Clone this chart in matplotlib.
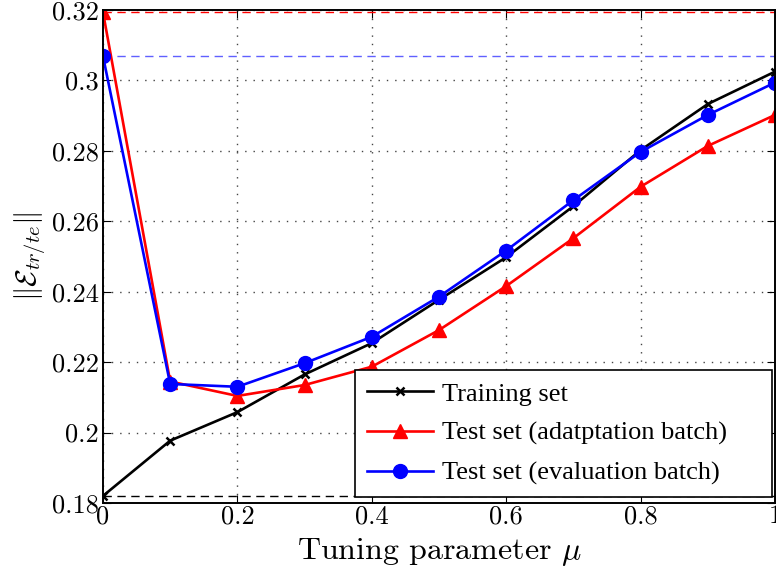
import numpy as np
import matplotlib.pyplot as plt

plt.rcParams['font.family'] = ['cmr10', 'DejaVu Serif']
plt.rcParams['mathtext.fontset'] = 'cm'
plt.rcParams['axes.formatter.use_mathtext'] = True

mu = [0.0, 0.1, 0.2, 0.3, 0.4, 0.5, 0.6, 0.7, 0.8, 0.9, 1.0]
training = [0.182, 0.1977, 0.2058, 0.2165, 0.2254, 0.2377, 0.2498, 0.2643, 0.2802, 0.2933, 0.3025]
test_adapt = [0.3194, 0.2145, 0.2104, 0.2135, 0.2187, 0.2291, 0.2416, 0.2552, 0.2698, 0.2814, 0.2902]
test_eval = [0.3069, 0.2138, 0.2130, 0.2197, 0.2272, 0.2386, 0.2517, 0.2660, 0.2797, 0.2902, 0.2994]

xticks = [0, 0.2, 0.4, 0.6, 0.8, 1]
xticklabels = ["0", "0.2", "0.4", "0.6", "0.8", "1"]
yticks = [0.18, 0.2, 0.22, 0.24, 0.26, 0.28, 0.3, 0.32]
yticklabels = ["0.18", "0.2", "0.22", "0.24", "0.26", "0.28", "0.3", "0.32"]

fig = plt.figure(figsize=(7.76, 5.73), dpi=100)
ax = fig.add_axes([0.1327, 0.1222, 0.866, 0.8603])

# reference levels at mu = 0
ax.axhline(training[0], color='black', ls='--', lw=1, dashes=(6, 4))
ax.axhline(test_adapt[0], color='red', ls='--', lw=1, dashes=(6, 4))
ax.axhline(test_eval[0], color='#6060ff', ls='--', lw=1, dashes=(6, 4))

ax.plot(mu, training, color='black', lw=1.9, marker='x', ms=6, mew=1.8, label='Training set')
ax.plot(mu, test_adapt, color='red', lw=1.9, marker='^', ms=10, label='Test set (adatptation batch)')
ax.plot(mu, test_eval, color='blue', lw=1.9, marker='o', ms=10, label='Test set (evaluation batch)')

ax.set_xlim(0, 1)
ax.set_ylim(0.18, 0.32)
ax.set_xticks(xticks)
ax.set_xticklabels(xticklabels)
ax.set_yticks(yticks)
ax.set_yticklabels(yticklabels)
ax.tick_params(direction='in', top=True, right=True, labelsize=19, length=6, pad=3)
ax.tick_params(axis='x', pad=1)
ax.grid(True, color='#444444', ls=(0, (1, 5)), lw=1.0)
for s in ax.spines.values():
    s.set_linewidth(1.4)

ax.set_xlabel(r'Tuning parameter $\mu$', fontsize=23, labelpad=6)
ax.set_ylabel(r'$\|\mathcal{E}_{tr/te}\|$', fontsize=21, labelpad=2)

leg = ax.legend(loc='lower left', bbox_to_anchor=(0.375, 0.012, 0.62, 0.2), mode='expand',
                prop={'family': 'Liberation Serif', 'size': 19},
                fancybox=False, framealpha=1, edgecolor='black', borderaxespad=0,
                handlelength=2.5, handletextpad=0.35, labelspacing=0.6,
                borderpad=0.45)
leg.get_frame().set_linewidth(1.2)

fig.savefig('out.png', dpi=100)
